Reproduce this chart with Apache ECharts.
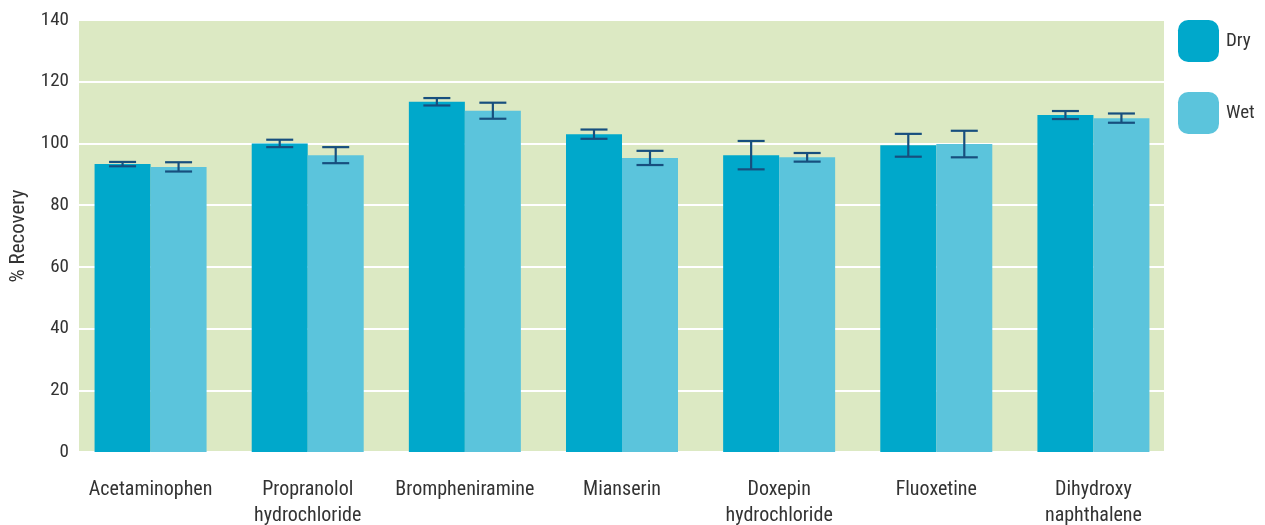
<!DOCTYPE html>
<html><head><meta charset="utf-8">
<script src="https://cdn.jsdelivr.net/npm/echarts@6/dist/echarts.min.js"></script>
<style>html,body{margin:0;padding:0;background:#fff}#c{width:1265px;height:525px}</style>
</head><body><div id="c"></div>
<script>
const categories = ['Acetaminophen','Propranolol\nhydrochloride','Brompheniramine','Mianserin','Doxepin\nhydrochloride','Fluoxetine','Dihydroxy\nnaphthalene'];
const dryValues = [93.3, 100.0, 113.5, 103.0, 96.2, 99.4, 109.2];
const dryErrors = [0.7, 1.2, 1.2, 1.5, 4.6, 3.7, 1.3];
const wetValues = [92.4, 96.2, 110.6, 95.3, 95.5, 99.8, 108.2];
const wetErrors = [1.5, 2.6, 2.6, 2.3, 1.4, 4.3, 1.5];
const yTicks = [0, 20, 40, 60, 80, 100, 120, 140];

const FONT = '"Liberation Sans Narrow", "Roboto Condensed", "Liberation Sans", Arial, sans-serif';
const TXT = '#333333';
const ERR = '#174f7e';

function errSeries(name, vals, errs, offset) {
  return {
    type: 'custom', name: name + ' err', xAxisIndex: 1, yAxisIndex: 1, z: 5,
    data: vals.map((v, i) => [i, v - errs[i], v + errs[i]]),
    renderItem: function (params, api) {
      const lo = api.coord([api.value(0), api.value(1)]);
      const hi = api.coord([api.value(0), api.value(2)]);
      const x = lo[0] + offset;
      const hw = 13.5;
      const st = { stroke: ERR, lineWidth: 2.2 };
      return { type: 'group', children: [
        { type: 'line', shape: { x1: x, y1: hi[1], x2: x, y2: lo[1] }, style: st },
        { type: 'line', shape: { x1: x - hw, y1: hi[1], x2: x + hw, y2: hi[1] }, style: st },
        { type: 'line', shape: { x1: x - hw, y1: lo[1], x2: x + hw, y2: lo[1] }, style: st }
      ]};
    }
  };
}

const chart = echarts.init(document.getElementById('c'));
chart.setOption({
  animation: false,
  textStyle: { fontFamily: FONT },
  grid: [
    { left: 79, right: 101, top: 20, bottom: 73, show: true, backgroundColor: '#dce9c3', borderWidth: 0, outerBoundsMode: 'none', containLabel: false },
    { left: 72, right: 93, top: 20, bottom: 73, outerBoundsMode: 'none', containLabel: false }
  ],
  legend: {
    orient: 'vertical', left: 1178, top: 20, padding: 0, itemWidth: 41, itemHeight: 42, itemGap: 30,
    icon: 'roundRect', data: ['Dry', 'Wet'],
    textStyle: { fontSize: 19, color: TXT, fontFamily: FONT, padding: [0, 0, 0, 2] }
  },
  xAxis: [
    { type: 'value', gridIndex: 0, show: false, min: 0, max: 1 },
    { type: 'category', gridIndex: 1, data: categories,
      axisLine: { show: false }, axisTick: { show: false },
      axisLabel: { color: TXT, fontSize: 20, lineHeight: 26, margin: 25, interval: 0, fontFamily: FONT } }
  ],
  yAxis: [
    { type: 'value', gridIndex: 0, min: 0, max: 140, interval: 20,
      name: '% Recovery', nameLocation: 'middle', nameGap: 50, nameRotate: 90,
      nameTextStyle: { color: TXT, fontSize: 21, fontFamily: FONT },
      axisLine: { show: false }, axisTick: { show: false },
      axisLabel: { color: TXT, fontSize: 19, margin: 10, fontFamily: FONT,
        formatter: v => yTicks.includes(v) ? String(v) : '' },
      splitLine: { show: true, lineStyle: { color: '#ffffff', width: 2 } } },
    { type: 'value', gridIndex: 1, min: 0, max: 140, interval: 20, show: false, splitLine: { show: false } }
  ],
  series: [
    { type: 'bar', name: 'Dry', xAxisIndex: 1, yAxisIndex: 1, data: dryValues, barWidth: 56, barGap: '0%',
      itemStyle: { color: '#00a8cb' } },
    { type: 'bar', name: 'Wet', xAxisIndex: 1, yAxisIndex: 1, data: wetValues, barWidth: 56, barGap: '0%',
      itemStyle: { color: '#5bc4dc' } },
    errSeries('Dry', dryValues, dryErrors, -28),
    errSeries('Wet', wetValues, wetErrors, 28)
  ]
});
</script></body></html>
